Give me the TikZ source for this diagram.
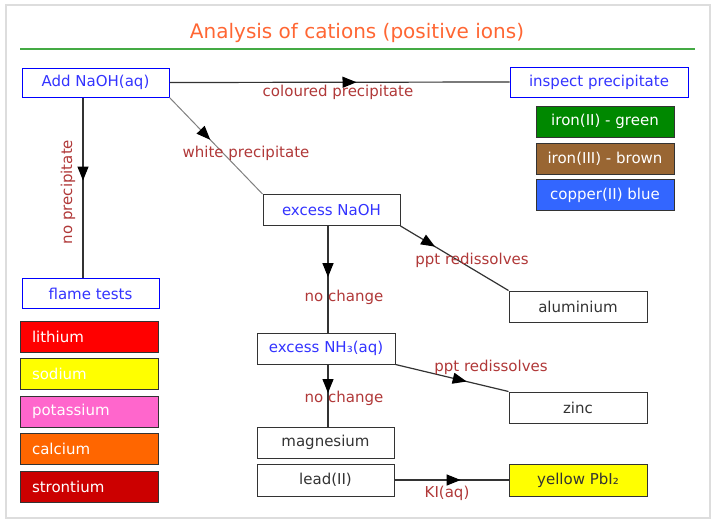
\documentclass[tikz,border=0pt]{standalone}
\usepackage{fontspec}
\setmainfont{DejaVu Sans}
\usetikzlibrary{arrows.meta,decorations.markings}
\definecolor{frame}{HTML}{DDDDDD}
\definecolor{titleor}{HTML}{FF6633}
\definecolor{rule}{HTML}{44AA44}
\definecolor{bluetxt}{HTML}{3333FF}
\definecolor{lbl}{HTML}{B03838}
\definecolor{dark}{HTML}{333333}
\definecolor{cgreen}{HTML}{008800}
\definecolor{cbrown}{HTML}{996633}
\definecolor{cblue}{HTML}{3366FF}
\definecolor{cred}{HTML}{FF0000}
\definecolor{cyellow}{HTML}{FFFF00}
\definecolor{cpink}{HTML}{FF66CC}
\definecolor{corange}{HTML}{FF6600}
\definecolor{cdred}{HTML}{CC0000}
\tikzset{
  boxbase/.style={rectangle, draw, line width=1pt, minimum width=137pt, minimum height=31pt, inner sep=0pt, font=\fontsize{15}{17}\selectfont},
  bluebox/.style={boxbase, draw=blue, text=bluetxt},
  greybox/.style={boxbase, draw=dark, text=dark},
  greybluebox/.style={boxbase, draw=dark, text=bluetxt},
  colbox/.style={boxbase, draw=dark, fill=#1, text=white, minimum width=138pt},
  flamebox/.style={boxbase, draw=dark, fill=#1, text=white, text width=114pt, inner xsep=12pt, align=left},
  lbltext/.style={text=lbl, inner sep=0pt, font=\fontsize{15}{17}\selectfont},
  conn/.style={draw=dark, line width=1.2pt},
  midarrow/.style={postaction={decorate}, decoration={markings, mark=at position #1 with {\arrow[black]{Triangle[length=14pt,width=11pt]}}}}
}
\begin{document}
\begin{tikzpicture}[x=1pt,y=-1pt]
\useasboundingbox (0,0) rectangle (718,525);
\draw[frame, line width=2pt] (6,5) rectangle (710,518);
\node[text=titleor, font=\fontsize{20}{24}\selectfont] (title) at (357,33) {Analysis of cations (positive ions)};
\draw[rule, line width=1.2pt] (20,49) -- (695,49);

% nodes
\node[bluebox, minimum width=147pt, minimum height=29pt] (add) at (95.5,82.5) {Add NaOH(aq)};
\node[bluebox, minimum width=178pt, minimum height=30pt] (insp) at (599,82) {inspect precipitate};
\node[colbox=cgreen] (fe2) at (605,121.5) {iron(II) - green};
\node[colbox=cbrown] (fe3) at (605,158.5) {iron(III) - brown};
\node[colbox=cblue] (cu) at (605,195) {copper(II) blue};
\node[greybluebox] (exna) at (331.5,210) {excess NaOH};
\node[greybox, minimum width=138pt] (al) at (578,306.5) {aluminium};
\node[bluebox, minimum height=30pt] (flame) at (90.5,293.5) {flame tests};
\node[flamebox=cred] (li) at (89,336.5) {lithium};
\node[flamebox=cyellow] (na) at (89,374) {sodium};
\node[flamebox=cpink] (k) at (89,411.5) {potassium};
\node[flamebox=corange] (ca) at (89,449) {calcium};
\node[flamebox=cdred] (sr) at (89,486.5) {strontium};
\node[greybluebox, minimum width=138pt] (exnh) at (326,348.5) {excess NH₃(aq)};
\node[greybox, minimum width=138pt] (zn) at (578,407.5) {zinc};
\node[greybox] (mg) at (325.5,442.5) {magnesium};
\node[greybox, minimum height=32pt] (pb) at (325.5,480) {lead(II)};
\node[greybox, fill=cyellow, minimum width=138pt, minimum height=32pt] (pbi) at (578,480) {yellow PbI₂};

% helper coordinates for vertical lines
\coordinate (fx) at (83,0);
\coordinate (vx) at (328,0);

% connectors
\draw[conn, midarrow=0.55] (add.east) -- (insp.west);
\draw[conn, midarrow=0.46] (add.south -| fx) -- (flame.north -| fx);
\draw[draw=gray, line width=1pt, midarrow=0.44] (add.south east) -- (exna.north west);
\draw[conn, midarrow=0.48] (exna.south -| vx) -- (exnh.north -| vx);
\draw[conn, midarrow=0.32] (exna.south east) -- (al.north west);
\draw[conn, midarrow=0.63] (exnh.south east) -- (zn.north west);
\draw[conn, midarrow=0.46] (exnh.south -| vx) -- (mg.north -| vx);
\draw[conn, midarrow=0.58] (pb.east) -- (pbi.west);

% labels
\node[lbltext] (l1) at (338,92) {coloured precipitate};
\node[lbltext, rotate=90] (l2) at (68,192) {no precipitate};
\node[lbltext] (l3) at (246,153) {white precipitate};
\node[lbltext] (l4) at (344,297) {no change};
\node[lbltext] (l5) at (472,260) {ppt redissolves};
\node[lbltext] (l6) at (491,367) {ppt redissolves};
\node[lbltext] (l7) at (344,398) {no change};
\node[lbltext] (l8) at (447,493) {KI(aq)};
\end{tikzpicture}
\end{document}
